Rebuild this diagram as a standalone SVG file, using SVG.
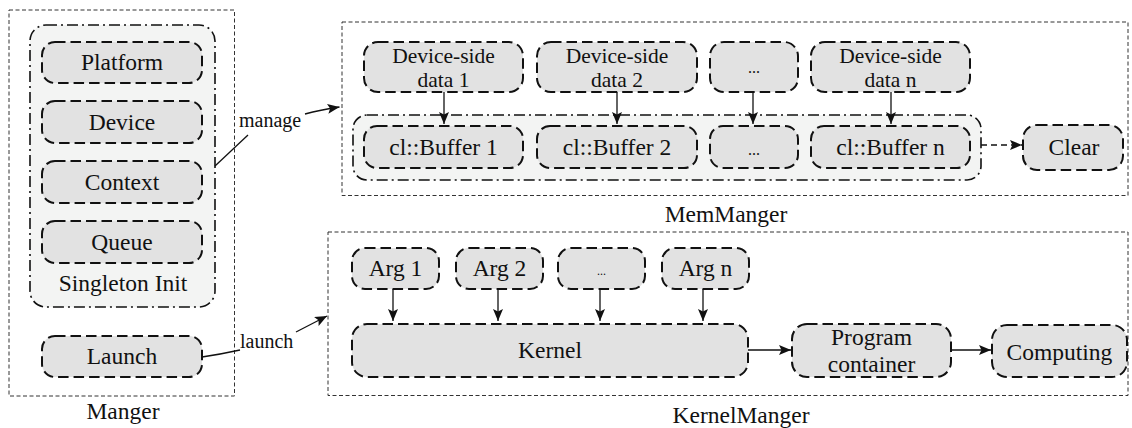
<svg xmlns="http://www.w3.org/2000/svg" width="1132" height="428" viewBox="0 0 1132 428">
  <style>
    text { font-family: "Liberation Serif", "Times New Roman", serif; fill: #111; text-anchor: middle; }
    .t { font-size: 23.5px; }
    .ts { font-size: 21.5px; }
    .tl { font-size: 20px; text-anchor: start; }
    .dots { font-size: 16px; }
    .frame { fill: none; stroke: #333; stroke-width: 1; stroke-dasharray: 4 2.5; }
    .group { fill: #f3f4f3; stroke: #111; stroke-width: 1.6; stroke-dasharray: 11 4 2 4; }
    .box { fill: #e2e2e2; stroke: #111; stroke-width: 2; stroke-dasharray: 10.5 5; }
    .wire { fill: none; stroke: #111; stroke-width: 1.3; }
  </style>
  <defs>
    <marker id="arrow" markerUnits="userSpaceOnUse" markerWidth="14" markerHeight="12" refX="12" refY="5" orient="auto">
      <path d="M0,0 L12,5 L0,10 L2.5,5 z" fill="#111"/>
    </marker>
  </defs>

  <!-- Manager panel -->
  <g id="manager">
    <rect class="frame" x="9" y="10" width="225.5" height="386"/>
    <text class="t" x="123" y="419">Manger</text>
  </g>
  <g id="singleton-init">
    <rect class="group" x="30" y="25" width="185" height="282" rx="16"/>
    <text class="t" x="123" y="291">Singleton Init</text>
  </g>
  <g id="platform">
    <rect class="box" x="42" y="42" width="160" height="41" rx="13"/>
    <text class="t" x="122" y="70">Platform</text>
  </g>
  <g id="device">
    <rect class="box" x="42" y="101" width="160" height="42" rx="13"/>
    <text class="t" x="122" y="129.5">Device</text>
  </g>
  <g id="context">
    <rect class="box" x="42" y="161" width="160" height="42" rx="13"/>
    <text class="t" x="122" y="189.5">Context</text>
  </g>
  <g id="queue">
    <rect class="box" x="42" y="221" width="160" height="42" rx="13"/>
    <text class="t" x="122" y="250">Queue</text>
  </g>
  <g id="launch">
    <rect class="box" x="42" y="336" width="160" height="41" rx="13"/>
    <text class="t" x="122" y="364">Launch</text>
  </g>

  <!-- MemManger panel -->
  <g id="memmanager">
    <rect class="frame" x="342" y="22" width="786" height="173.5"/>
    <text class="t" x="726" y="222">MemManger</text>
  </g>
  <g id="data-1">
    <rect class="box" x="364" y="42" width="159" height="50" rx="14"/>
    <text class="ts" x="443.5" y="62.5">Device-side</text>
    <text class="ts" x="443.5" y="86.5">data 1</text>
  </g>
  <g id="data-2">
    <rect class="box" x="537" y="42" width="160" height="50" rx="14"/>
    <text class="ts" x="617" y="62.5">Device-side</text>
    <text class="ts" x="617" y="86.5">data 2</text>
  </g>
  <g id="data-more">
    <rect class="box" x="710" y="42" width="88" height="50" rx="14"/>
    <text class="dots" x="754" y="73">...</text>
  </g>
  <g id="data-n">
    <rect class="box" x="811" y="42" width="159" height="50" rx="14"/>
    <text class="ts" x="890.5" y="62.5">Device-side</text>
    <text class="ts" x="890.5" y="86.5">data n</text>
  </g>
  <g id="buffers">
    <rect class="group" x="353" y="115" width="628" height="65" rx="14"/>
  </g>
  <g id="buffer-1">
    <rect class="box" x="364" y="126" width="159" height="42" rx="13"/>
    <text class="t" x="443.5" y="155">cl::Buffer 1</text>
  </g>
  <g id="buffer-2">
    <rect class="box" x="537" y="126" width="160" height="42" rx="13"/>
    <text class="t" x="617" y="155">cl::Buffer 2</text>
  </g>
  <g id="buffer-more">
    <rect class="box" x="710" y="126" width="88" height="42" rx="13"/>
    <text class="dots" x="754" y="155">...</text>
  </g>
  <g id="buffer-n">
    <rect class="box" x="811" y="126" width="159" height="42" rx="13"/>
    <text class="t" x="890.5" y="155">cl::Buffer n</text>
  </g>
  <g id="clear">
    <rect class="box" x="1023" y="125" width="100" height="45" rx="14"/>
    <text class="t" x="1074" y="155">Clear</text>
  </g>

  <!-- KernelManger panel -->
  <g id="kernelmanager">
    <rect class="frame" x="328" y="232" width="800" height="163.5"/>
    <text class="t" x="741" y="423">KernelManger</text>
  </g>
  <g id="arg-1">
    <rect class="box" x="352" y="248" width="87" height="41" rx="13"/>
    <text class="t" x="395.5" y="276">Arg 1</text>
  </g>
  <g id="arg-2">
    <rect class="box" x="456" y="248" width="87" height="41" rx="13"/>
    <text class="t" x="499.5" y="276">Arg 2</text>
  </g>
  <g id="arg-more">
    <rect class="box" x="558" y="248" width="87" height="41" rx="13"/>
    <text class="dots" x="601.5" y="275" style="font-size:12px">...</text>
  </g>
  <g id="arg-n">
    <rect class="box" x="662" y="248" width="87" height="41" rx="13"/>
    <text class="t" x="705.5" y="276">Arg n</text>
  </g>
  <g id="kernel">
    <rect class="box" x="352" y="324" width="396" height="53" rx="15"/>
    <text class="t" x="550" y="358">Kernel</text>
  </g>
  <g id="program-container">
    <rect class="box" x="792" y="324" width="159" height="53" rx="15"/>
    <text class="t" x="871.5" y="345">Program</text>
    <text class="t" x="871.5" y="372">container</text>
  </g>
  <g id="computing">
    <rect class="box" x="992" y="325" width="135" height="52" rx="15"/>
    <text class="t" x="1059.5" y="360">Computing</text>
  </g>

  <!-- connectors -->
  <g id="connectors">
    <path class="wire" d="M215,166 L248,135"/>
    <text class="tl" x="239" y="127">manage</text>
    <path class="wire" d="M305,114 Q320,110 339.5,107" marker-end="url(#arrow)"/>

    <path class="wire" d="M202,357 Q222,354 240,350"/>
    <text class="tl" x="240" y="348">launch</text>
    <path class="wire" d="M296,332 L327,316" marker-end="url(#arrow)"/>

    <path class="wire" d="M444,92 V124" marker-end="url(#arrow)"/>
    <path class="wire" d="M617,92 V124" marker-end="url(#arrow)"/>
    <path class="wire" d="M753,93 V124" marker-end="url(#arrow)"/>
    <path class="wire" d="M891,92 V124" marker-end="url(#arrow)"/>
    <path class="wire" d="M981,145 H1022" stroke-dasharray="6 4" marker-end="url(#arrow)"/>

    <path class="wire" d="M393,289 V321" marker-end="url(#arrow)"/>
    <path class="wire" d="M498,289 V321" marker-end="url(#arrow)"/>
    <path class="wire" d="M600,289 V321" marker-end="url(#arrow)"/>
    <path class="wire" d="M703,289 V321" marker-end="url(#arrow)"/>
    <path class="wire" d="M748,350 H791" marker-end="url(#arrow)"/>
    <path class="wire" d="M951,350 H991" marker-end="url(#arrow)"/>
  </g>
</svg>
